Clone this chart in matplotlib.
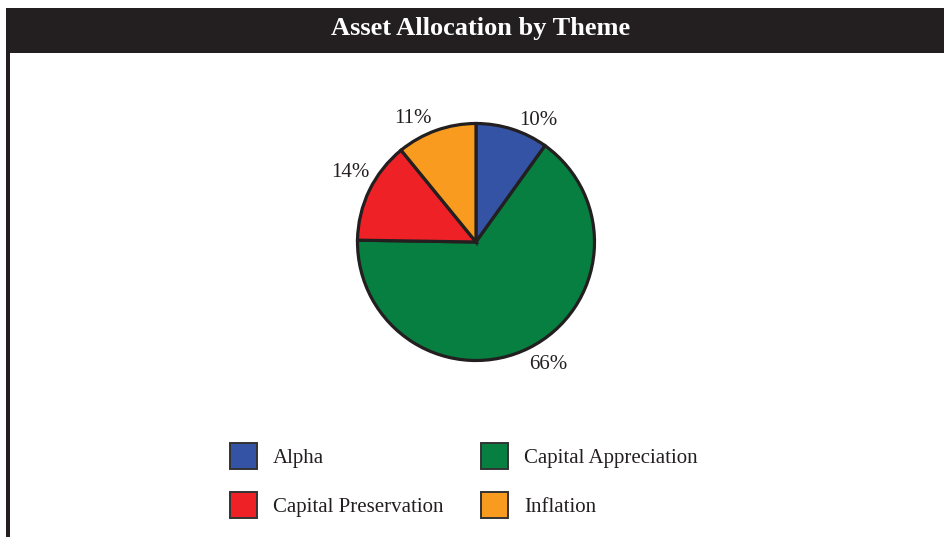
import matplotlib
matplotlib.use("Agg")

import numpy as np
import matplotlib.pyplot as plt
from matplotlib.patches import Rectangle, Patch

# --- Datos ---
themes = ["Alpha", "Capital Appreciation", "Capital Preservation", "Inflation"]
shares = [10, 66, 14, 11]
theme_colors = ["#3453a5", "#077f40", "#ee2126", "#f89b1f"]

title = "Asset Allocation by Theme"
dark = "#231f20"

# --- Figura ---
W, H = 945, 537
fig = plt.figure(figsize=(W / 100, H / 100), dpi=100)
plt.rcParams["font.family"] = ["Liberation Serif", "DejaVu Serif"]

# barra del titulo y borde izquierdo
fig.patches.append(Rectangle((6 / W, 1 - 52.5 / H), (W - 6) / W, 45 / H,
                             transform=fig.transFigure, fc=dark, ec="none"))
fig.patches.append(Rectangle((6 / W, 0), 4 / W, 1 - 7.5 / H,
                             transform=fig.transFigure, fc=dark, ec="none"))
fig.text(481 / W, 1 - 29 / H, title, color="white", fontsize=19,
         fontweight="bold", ha="center", va="center")

# --- Tarta ---
cx, cy, r = 476, 242, 118.5
ax = fig.add_axes([(cx - r) / W, 1 - (cy + r) / H, 2 * r / W, 2 * r / H])
ax.set_aspect("equal")
ax.axis("off")

labels = [f"{v}%" for v in shares]
wedges, texts = ax.pie(shares, colors=theme_colors, startangle=90, counterclock=False,
                       labels=labels, labeldistance=1.18,
                       wedgeprops=dict(edgecolor=dark, linewidth=2.3),
                       textprops=dict(fontsize=15, color=dark))
ax.set_xlim(-1, 1)
ax.set_ylim(-1, 1)

# posicion de las etiquetas (angulo, distancia) como en el original
label_pos = [(63, 1.155), (-59.5, 1.2), (151, 1.21), (117, 1.165)]
for t, (ang, d) in zip(texts, label_pos):
    a = np.radians(ang)
    t.set_position((d * np.cos(a), d * np.sin(a)))
    t.set_ha("center")
    t.set_va("center")

# --- Leyenda ---
handles = [Patch(facecolor=c, edgecolor="#333333", linewidth=1.4) for c in theme_colors]
order = [0, 2, 1, 3]
fig.legend([handles[i] for i in order], [themes[i] for i in order],
           ncol=2, loc="upper left", bbox_to_anchor=(230 / W, 1 - 443 / H),
           frameon=False, fontsize=15, borderpad=0, borderaxespad=0,
           handlelength=1.3, handleheight=1.52, handletextpad=0.77,
           labelspacing=1.12, columnspacing=1.8, labelcolor=dark)

fig.savefig("out.png", dpi=100, facecolor="white")
